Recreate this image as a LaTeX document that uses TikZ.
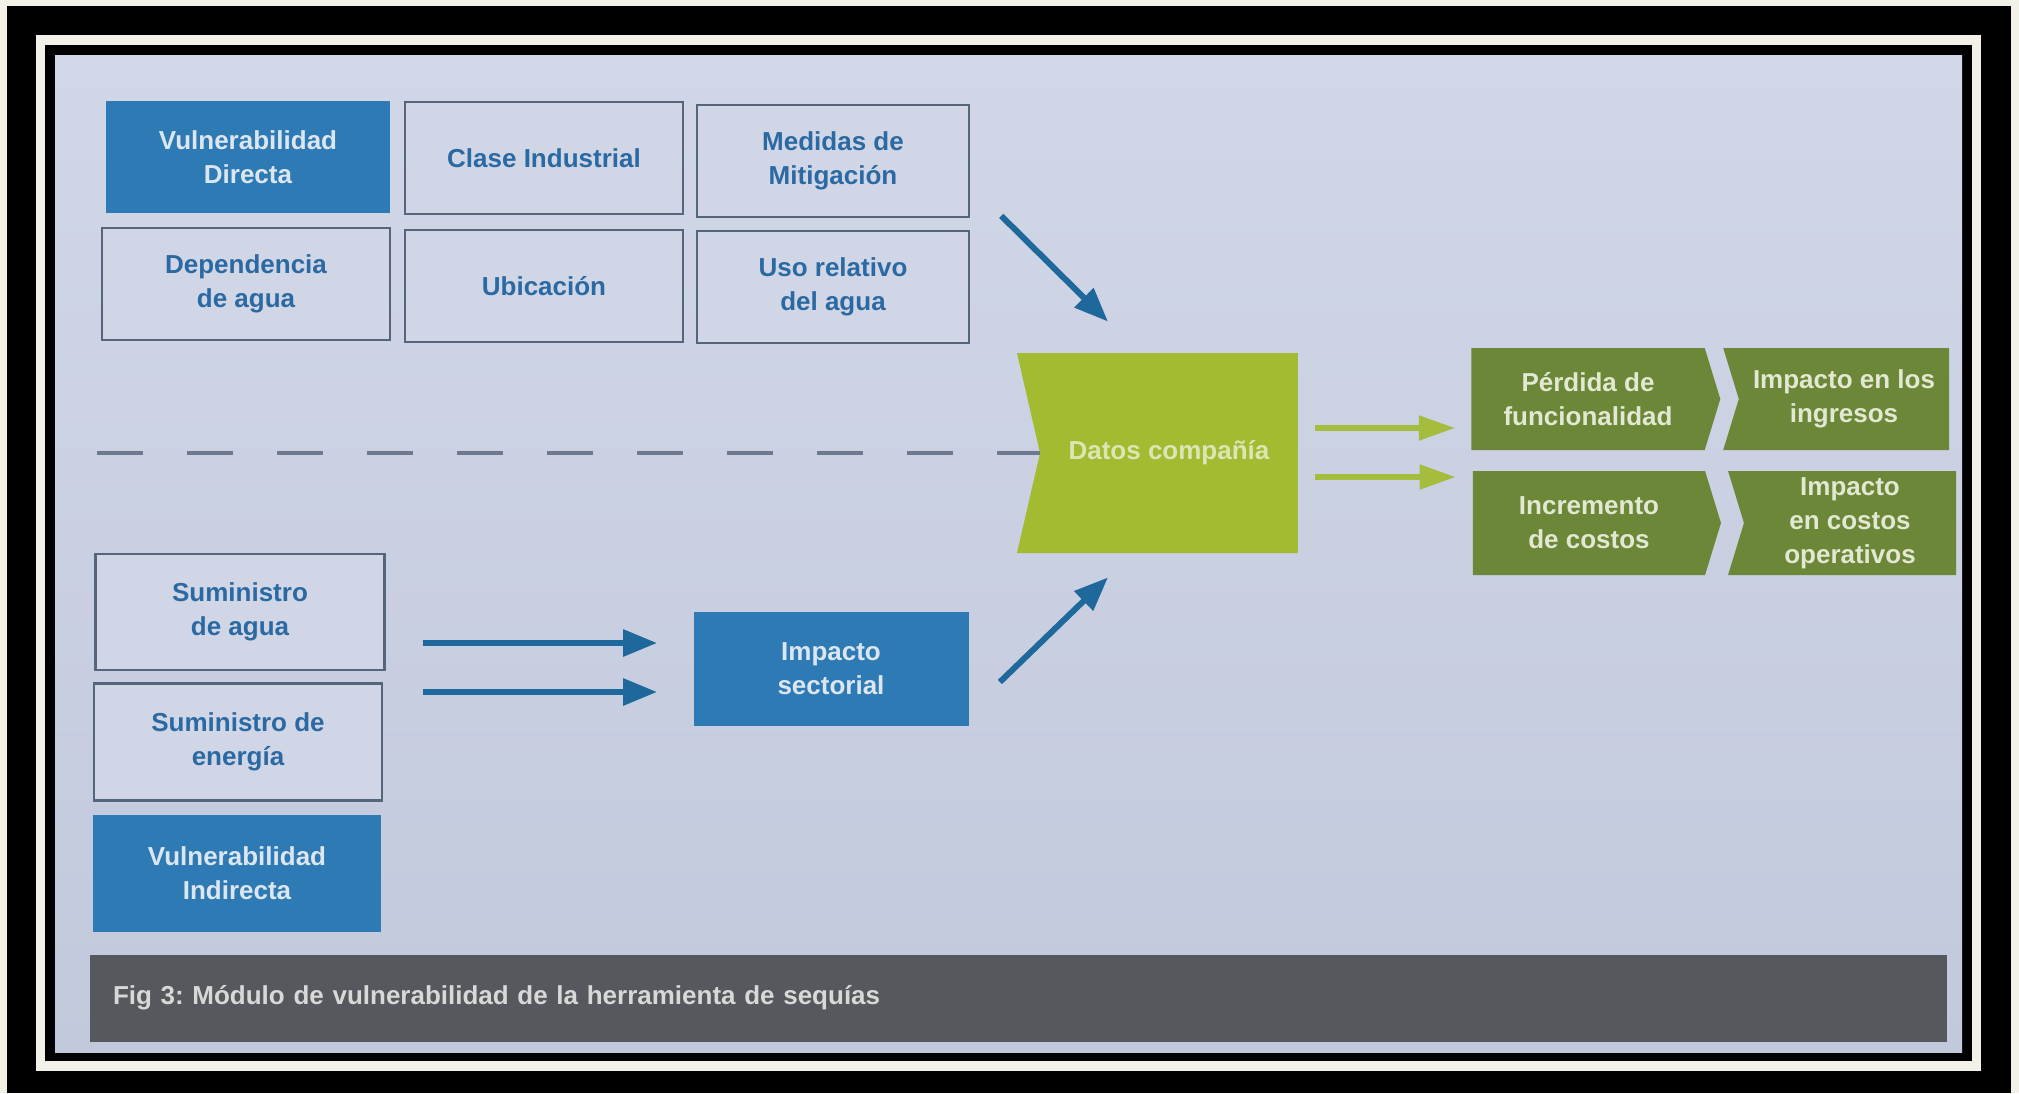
\documentclass[tikz,border=0pt]{standalone}
\usepackage{fontspec}
\setmainfont{Liberation Sans}
\usetikzlibrary{arrows.meta, shapes.symbols, calc}
\frenchspacing

\definecolor{cream}{HTML}{F3F0E8}
\definecolor{papertop}{HTML}{D1D7E7}
\definecolor{paperbottom}{HTML}{C2C9DC}
\definecolor{boxline}{HTML}{55657C}
\definecolor{boxfill}{HTML}{D0D6E6}
\definecolor{boxtext}{HTML}{2B69A3}
\definecolor{vulblue}{HTML}{2E7AB4}
\definecolor{vultext}{HTML}{DCE6F0}
\definecolor{datosgreen}{HTML}{A2BB30}
\definecolor{datostext}{HTML}{DCE5B4}
\definecolor{outgreen}{HTML}{6C8737}
\definecolor{outtext}{HTML}{E2E8D2}
\definecolor{arrowblue}{HTML}{1F689C}
\definecolor{arrowgreen}{HTML}{A4BD3C}
\definecolor{sepgrey}{HTML}{6E7990}
\definecolor{capgrey}{HTML}{55585C}
\definecolor{captext}{HTML}{D8D8D8}

\tikzset{
  txt/.style={font=\bfseries\fontsize{13}{17}\selectfont, align=center, inner sep=2pt},
  outbox/.style={txt, rectangle, draw=boxline, line width=1.2pt, fill=boxfill, text=boxtext},
  vulbox/.style={txt, rectangle, fill=vulblue, text=vultext},
  datos/.style={txt, signal, signal to=nowhere, signal from=west, signal pointer angle=154, fill=datosgreen, text=datostext},
  outcome/.style={txt, signal, signal pointer angle=146, fill=outgreen, text=outtext},
  blarrow/.style={draw=arrowblue, line width=3pt, -{Triangle[length=17pt, width=13pt]}},
  grarrow/.style={draw=arrowgreen, line width=2.6pt, -{Triangle[length=18pt, width=12pt]}},
  sepline/.style={draw=sepgrey, line width=2pt, dash pattern=on 23pt off 22pt},
  capbar/.style={rectangle, fill=capgrey, text=captext, minimum width=928.5pt, minimum height=43.5pt,
    text width=905pt, align=left, inner xsep=11.5pt, font=\bfseries\fontsize{13}{16}\selectfont}
}

\begin{document}
\begin{tikzpicture}[x=0.5pt, y=-0.5pt]
  \useasboundingbox (0,0) rectangle (2019,1093);
  % frame of the photo
  \fill[cream] (0,0) rectangle (2019,1093);
  \fill[black] (7,6) rectangle (2011,1093);
  \fill[cream] (36,35) rectangle (1981,1071);
  \fill[black] (45,45) rectangle (1972,1061);
  \shade[top color=papertop, bottom color=paperbottom] (55,55) rectangle (1962,1052);

  % direct vulnerability
  \node[vulbox, minimum width=142pt, minimum height=56pt] (vd) at (248,157) {Vulnerabilidad\\Directa};
  \node[outbox, minimum width=139pt, minimum height=56pt] (ci) at (544,158) {Clase Industrial};
  \node[outbox, minimum width=136pt, minimum height=56pt] (mm) at (833,161) {Medidas de\\Mitigación};
  \node[outbox, minimum width=144pt, minimum height=56pt] (da) at (246,284) {Dependencia\\de agua};
  \node[outbox, minimum width=139pt, minimum height=56pt] (ub) at (544,286) {Ubicación};
  \node[outbox, minimum width=136pt, minimum height=56pt] (ur) at (833,287) {Uso relativo\\del agua};

  % indirect vulnerability
  \node[outbox, minimum width=144.5pt, minimum height=58pt] (sa) at (240,612) {Suministro\\de agua};
  \node[outbox, minimum width=144pt, minimum height=58.5pt] (se) at (238,742) {Suministro de\\energía};
  \node[vulbox, minimum width=144pt, minimum height=58.5pt] (vi) at (237,873) {Vulnerabilidad\\Indirecta};
  \node[vulbox, minimum width=137.5pt, minimum height=57pt] (is) at (831,669) {Impacto\\sectorial};

  % company data and outcomes
  \node[datos, minimum width=140.5pt, minimum height=100pt] (dc) at (1169,453) {Datos compañía};
  \node[outcome, minimum width=124.5pt, minimum height=51pt] (pf) at (1588,399) {Pérdida de\\funcionalidad};
  \node[outcome, signal to=nowhere, signal from=west, minimum width=113pt, minimum height=51pt] (ii) at (1844,399) {Impacto en los\\ingresos};
  \node[outcome, minimum width=124pt, minimum height=52pt] (ic) at (1589,523) {Incremento\\de costos};
  \node[outcome, signal to=nowhere, signal from=west, minimum width=114pt, minimum height=52pt] (io) at (1850,523) {Impacto\\en costos\\operativos};

  \coordinate (sepstart) at (97,453);
  \draw[sepline] (sepstart) -- (dc.west);

  \draw[blarrow] ($(ur.north east)+(31,-14)$) -- ($(dc.north)+(-61,-31)$);
  \draw[blarrow] ($(is.east)+(31,13)$) -- ($(dc.south)+(-61,24)$);
  \draw[blarrow] ($(sa.east)+(37,31)$) -- ($(is.west)+(-36,-26)$);
  \draw[blarrow] ($(se.east)+(40,-50)$) -- ($(is.west)+(-36,23)$);
  \draw[grarrow] ($(dc.east)+(17,-25)$) -- ($(pf.west)+(-16,29)$);
  \draw[grarrow] ($(dc.east)+(17,24)$) -- ($(ic.west)+(-17,-46)$);

  % caption
  \node[capbar] (cap) at (1018,998) {Fig 3: Módulo de vulnerabilidad de la herramienta de sequías};
\end{tikzpicture}
\end{document}
